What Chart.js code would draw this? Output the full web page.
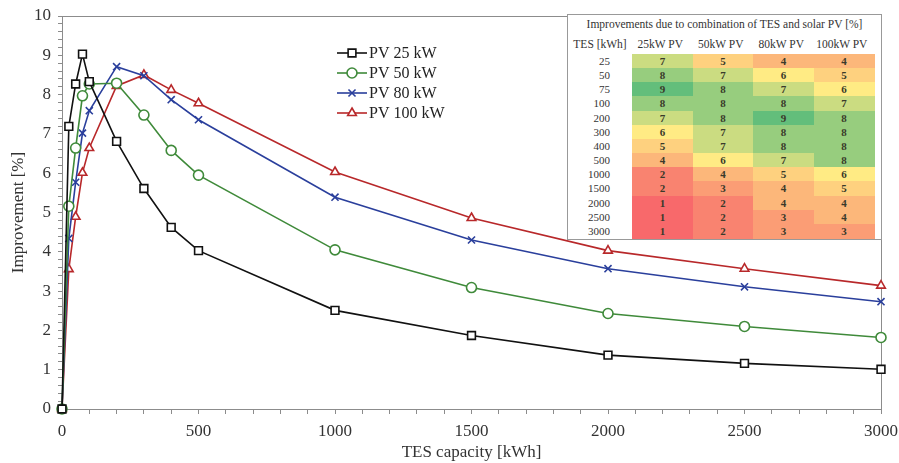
<!DOCTYPE html>
<html>
<head>
<meta charset="utf-8">
<script src="https://cdn.jsdelivr.net/npm/chart.js@4.4.1/dist/chart.umd.min.js"></script>
<style>
  html, body { margin: 0; padding: 0; background: #fff; }
  #wrap { position: relative; width: 899px; height: 463px; }
  #tbl { position: absolute; font-family: "Liberation Serif", "Times New Roman", serif; color: #333; background: #fff; border: 1px solid #999; box-sizing: border-box; }
  #tbl div { position: absolute; white-space: nowrap; text-align: center; box-sizing: border-box; }
</style>
</head>
<body>
<div id="wrap">
  <canvas id="c" width="899" height="463"></canvas>
  <div id="tbl"></div>
</div>
<script>
// ---------- chart data ----------
const tesCapacity = [0, 25, 50, 75, 100, 200, 300, 400, 500, 1000, 1500, 2000, 2500, 3000];
const pv25  = [0, 7.19, 8.27, 9.03, 8.33, 6.81, 5.61, 4.62, 4.03, 2.51, 1.87, 1.37, 1.16, 1.01];
const pv50  = [0, 5.16, 6.64, 7.97, 8.27, 8.29, 7.48, 6.58, 5.95, 4.05, 3.09, 2.43, 2.10, 1.82];
const pv80  = [0, 4.34, 5.77, 7.02, 7.59, 8.71, 8.48, 7.87, 7.36, 5.39, 4.30, 3.57, 3.11, 2.73];
const pv100 = [0, 3.56, 4.89, 6.01, 6.64, 8.22, 8.50, 8.12, 7.78, 6.03, 4.86, 4.03, 3.57, 3.14];
const seriesNames = ['PV 25 kW', 'PV 50 kW', 'PV 80 kW', 'PV 100 kW'];

// ---------- inset table data ----------
const tableTitle = 'Improvements due to combination of TES and solar PV [%]';
const tableHeaders = ['TES [kWh]', '25kW PV', '50kW PV', '80kW PV', '100kW PV'];
const tableTES = ['25', '50', '75', '100', '200', '300', '400', '500', '1000', '1500', '2000', '2500', '3000'];
const tab25  = [7, 8, 9, 8, 7, 6, 5, 4, 2, 2, 1, 1, 1];
const tab50  = [5, 7, 8, 8, 8, 7, 7, 6, 4, 3, 2, 2, 2];
const tab80  = [4, 6, 7, 8, 9, 8, 8, 7, 5, 4, 4, 3, 3];
const tab100 = [4, 5, 6, 7, 8, 8, 8, 8, 6, 5, 4, 4, 3];

const FONT = '"Liberation Serif", "Times New Roman", serif';
const colors = ['#111111', '#3f8a3a', '#2a3f9c', '#b8282a'];
const styles = ['rect', 'circle', 'crossRot', 'triangle'];
const allSeries = [pv25, pv50, pv80, pv100];

const datasets = allSeries.map((s, i) => ({
  label: seriesNames[i],
  data: tesCapacity.map((x, j) => ({ x: x, y: s[j] })),
  borderColor: colors[i],
  backgroundColor: colors[i],
  borderWidth: 1.6,
  pointStyle: styles[i],
  pointRadius: styles[i] === 'rect' ? 5.5 : 5,
  pointBorderWidth: 1.6,
  pointBorderColor: colors[i],
  pointBackgroundColor: 'rgba(255,255,255,1)',
  tension: 0,
  clip: false
}));

const framePlugin = {
  id: 'frame',
  beforeDatasetsDraw(chart) {
    const a = chart.chartArea, ctx = chart.ctx;
    ctx.save();
    ctx.strokeStyle = '#8c8c8c';
    ctx.lineWidth = 1;
    ctx.strokeRect(Math.round(a.left) + 0.5, Math.round(a.top) + 0.5, Math.round(a.right - a.left), Math.round(a.bottom - a.top));
    ctx.restore();
  }
};

const legendPlugin = {
  id: 'customLegend',
  afterDatasetsDraw(chart) {
    const ctx = chart.ctx;
    const x0 = 337, y0 = 53, dy = 20;
    ctx.save();
    chart.data.datasets.forEach((ds, i) => {
      const y = y0 + i * dy;
      ctx.strokeStyle = ds.borderColor;
      ctx.lineWidth = ds.borderWidth;
      ctx.beginPath();
      ctx.moveTo(x0, y);
      ctx.lineTo(x0 + 30, y);
      ctx.stroke();
      ctx.fillStyle = '#fff';
      ctx.strokeStyle = ds.borderColor;
      ctx.lineWidth = ds.pointBorderWidth;
      Chart.helpers.drawPoint(ctx, { pointStyle: ds.pointStyle, radius: ds.pointRadius, rotation: 0, borderWidth: ds.pointBorderWidth }, x0 + 15, y);
      ctx.fillStyle = '#222';
      ctx.font = '16px ' + FONT;
      ctx.textAlign = 'left';
      ctx.textBaseline = 'middle';
      ctx.fillText(ds.label, x0 + 32, y + 1);
    });
    ctx.restore();
  }
};

new Chart(document.getElementById('c'), {
  type: 'line',
  data: { datasets: datasets },
  plugins: [framePlugin, legendPlugin],
  options: {
    responsive: false,
    animation: false,
    layout: { padding: { left: 4, right: 18, top: 16, bottom: 0 } },
    plugins: { legend: { display: false }, tooltip: { enabled: false } },
    scales: {
      x: {
        type: 'linear',
        min: 0, max: 3000,
        afterFit(s) { s.height = 54; s.paddingLeft = 0; s.paddingRight = 0; },
        grid: { drawOnChartArea: false, drawTicks: true, tickLength: 5, color: '#8c8c8c' },
        border: { color: '#8c8c8c' },
        ticks: {
          stepSize: 100, autoSkip: false, maxRotation: 0, padding: 7,
          color: '#333', font: { family: FONT, size: 17 },
          callback: v => (Math.round(v) % 500 === 0 ? String(Math.round(v)) : '')
        },
        title: { display: true, text: 'TES capacity [kWh]', color: '#333', font: { family: FONT, size: 17 }, padding: { top: 0, bottom: 0 } }
      },
      y: {
        type: 'linear',
        min: 0, max: 10,
        afterFit(s) { s.width = 58; s.paddingTop = 0; s.paddingBottom = 0; },
        grid: { drawOnChartArea: false, drawTicks: true, tickLength: 4, color: '#8c8c8c' },
        border: { color: '#8c8c8c' },
        ticks: {
          stepSize: 0.2, autoSkip: false, padding: 7,
          color: '#333', font: { family: FONT, size: 17 },
          callback: v => (Math.abs(v - Math.round(v)) < 1e-6 ? String(Math.round(v)) : '')
        },
        title: { display: true, text: 'Improvement [%]', color: '#333', font: { family: FONT, size: 17 }, padding: { top: 4, bottom: 0 } }
      }
    }
  }
});

// ---------- inset heat table ----------
(function buildTable() {
  const box = document.getElementById('tbl');
  const L = 567, T = 14, W = 315, H = 226;
  box.style.left = L + 'px'; box.style.top = T + 'px';
  box.style.width = W + 'px'; box.style.height = H + 'px';
  const cols = [tab25, tab50, tab80, tab100];
  const labelW = 64, cellW = 60.5, rowH = 14.15;
  const titleH = 19, headH = 20;
  const dataTop = titleH + headH;
  function heat(v) {
    const red = [248, 105, 107], yel = [255, 235, 132], grn = [99, 190, 123];
    let a, b, t;
    if (v <= 6) { a = red; b = yel; t = (v - 1) / 5; } else { a = yel; b = grn; t = (v - 6) / 3; }
    const c = a.map((ai, k) => Math.round(ai + (b[k] - ai) * t));
    return 'rgb(' + c.join(',') + ')';
  }
  function add(text, x, y, w, h, extra) {
    const d = document.createElement('div');
    d.textContent = text;
    d.style.left = x + 'px'; d.style.top = y + 'px';
    d.style.width = w + 'px'; d.style.height = h + 'px';
    d.style.lineHeight = h + 'px';
    Object.assign(d.style, extra || {});
    box.appendChild(d);
    return d;
  }
  add(tableTitle, 0, 0, W - 2, titleH, { fontSize: '11.5px' });
  add(tableHeaders[0], 0, titleH, labelW, headH, { fontSize: '11.5px' });
  for (let c = 0; c < 4; c++) {
    add(tableHeaders[c + 1], labelW + c * cellW - 2, titleH, cellW, headH, { fontSize: '11.5px' });
  }
  for (let r = 0; r < tableTES.length; r++) {
    const y = dataTop + r * rowH;
    add(tableTES[r], 0, y, labelW - 22, rowH, { fontSize: '11px', textAlign: 'right' });
    for (let c = 0; c < 4; c++) {
      const v = cols[c][r];
      add(String(v), labelW + c * cellW, y, cellW + 0.6, rowH + 0.6, { fontSize: '11px', background: heat(v), fontWeight: 'bold', color: '#3a3a2a' });
    }
  }
})();
</script>
</body>
</html>
